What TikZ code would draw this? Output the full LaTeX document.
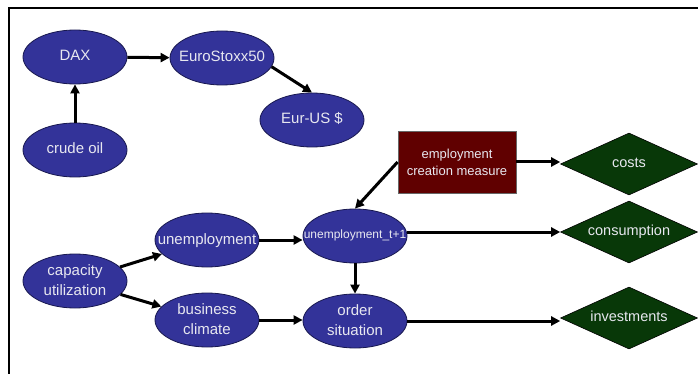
\documentclass[tikz,border=0pt]{standalone}
\usepackage{fontspec}
\setmainfont{Liberation Sans}
\usetikzlibrary{shapes.geometric,arrows.meta}

\definecolor{varblue}{RGB}{51,51,153}
\definecolor{varline}{RGB}{25,25,80}
\definecolor{actred}{RGB}{96,0,0}
\definecolor{goalgreen}{RGB}{8,56,8}
\definecolor{labelgray}{RGB}{232,232,240}

% text of fixed width zero, so the shape keeps its own size
\newcommand{\ctext}[1]{\makebox[0pt]{\begin{tabular}{@{}c@{}}#1\end{tabular}}}

\begin{document}
\begin{tikzpicture}[x=1pt,y=-1pt,
    var/.style={ellipse, draw=varline, fill=varblue, line width=0.8pt,
        minimum width=104pt, minimum height=54pt, inner xsep=0pt, inner ysep=-1pt,
        text=labelgray, font=\fontsize{15}{20}\selectfont},
    act/.style={rectangle, draw=black!60, fill=actred, line width=0.8pt,
        minimum width=118pt, minimum height=62pt, align=center,
        text=labelgray, font=\fontsize{13}{17}\selectfont},
    goal/.style={diamond, draw=black, fill=goalgreen, line width=0.6pt,
        minimum width=137pt, minimum height=62pt, inner sep=0pt,
        text=labelgray, font=\fontsize{14.5}{17}\selectfont},
    link/.style={line width=3pt, -{Triangle[length=9pt,width=9pt]}}]
    \useasboundingbox (0,0) rectangle (698,374);

    % Frame
    \draw[line width=1.3pt] (9,374) -- (9,8) -- (698,8);

    % Market nodes
    \node[var] (dax) at (75,57) {\ctext{DAX}};
    \node[var] (euro) at (222,58) {\ctext{EuroStoxx50}};
    \node[var] (eurus) at (312,120) {\ctext{Eur-US \$}};
    \node[var] (oil) at (75,150) {\ctext{crude oil}};

    % Labour market nodes
    \node[var] (cap) at (75,281) {\ctext{capacity\\utilization}};
    \node[var] (unemp) at (207,240) {\ctext{unemployment}};
    \node[var] (climate) at (207,320) {\ctext{business\\climate}};
    \node[var, font=\fontsize{12}{14}\selectfont] (unempnext) at (355,236) {\ctext{unemployment\_t+1}};
    \node[var] (order) at (355,321) {\ctext{order\\situation}};

    % Measure
    \node[act] (measure) at (457,162) {employment\\creation measure};

    % Outcomes
    \node[goal] (costs) at (629,164) {\ctext{costs}};
    \node[goal] (consum) at (629,232) {\ctext{consumption}};
    \node[goal] (invest) at (629,318) {\ctext{investments}};

    % Links
    \draw[link] (oil) -- (dax);
    \draw[link] (dax) -- (euro);
    \draw[link] (euro.-10) -- (eurus.north);
    \draw[link] (cap) -- (unemp);
    \draw[link] (cap) -- (climate);
    \draw[link] (unemp) -- (unemp -| unempnext.west);
    \draw[link] (climate) -- (climate -| order.west);
    \draw[link] (measure.west) -- (unempnext.north);
    \draw[link] (measure) -- (measure -| costs.west);
    \draw[link] (unempnext) -- (order);
    \draw[link] (unempnext.east |- consum) -- (consum);
    \draw[link] (order) -- (order -| invest.west);
\end{tikzpicture}
\end{document}
